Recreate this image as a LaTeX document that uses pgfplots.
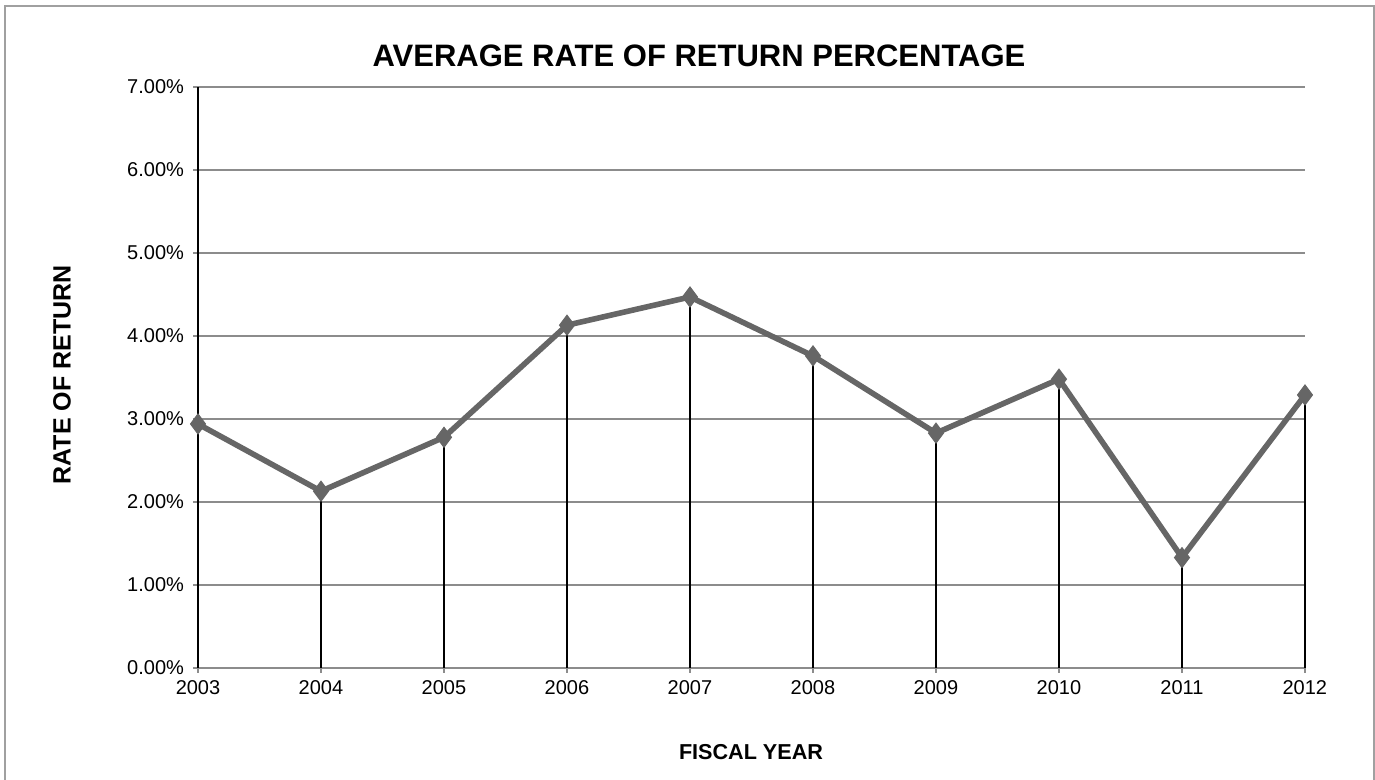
\documentclass[border=0pt]{standalone}
\usepackage{fontspec}
\setmainfont{Liberation Sans}
\usepackage{pgfplots}
\pgfplotsset{compat=1.18}
\definecolor{linegray}{HTML}{666666}
\definecolor{gridgray}{HTML}{8C8C8C}
\definecolor{framegray}{HTML}{A0A0A0}
\begin{document}
\begin{tikzpicture}[x=1pt,y=1pt]
\path[use as bounding box] (0,0) rectangle (687.5,390);
\draw[framegray, line width=0.8pt] (2.5,-2) -- (2.5,387) -- (687,387) -- (687,-2);
\begin{axis}[
  at={(99pt,56pt)}, anchor=origin,
  scale only axis, width=553.5pt, height=290.5pt,
  xmin=2003, xmax=2012, ymin=0, ymax=7,
  xtick={2003,...,2012}, ytick={0,1,...,7},
  axis x line*=bottom, axis y line*=left,
  axis line style={draw=none},
  ymajorgrids, grid style={gridgray, line width=0.8pt},
  major tick length=2.5pt,
  tick align=outside,
  tick style={gridgray, line width=0.8pt},
  xticklabel style={/pgf/number format/1000 sep={}, font=\fontsize{10}{12}\selectfont, text=black, yshift=0pt},
  yticklabel style={font=\fontsize{10}{12}\selectfont, text=black, xshift=-1pt},
  /pgf/number format/assume math mode=true,
  yticklabel={\pgfmathprintnumber[fixed,fixed zerofill,precision=2]{\tick}\%},
  clip=false,
]
\draw[gridgray, line width=0.8pt] (axis cs:2003,0) -- (axis cs:2012,0);
\draw[black, line width=0.6pt] (axis cs:2003,0) -- (axis cs:2003,7);
\addplot[ycomb, black, line width=0.6pt, mark=none] coordinates {
(2003,2.94) (2004,2.13) (2005,2.78) (2006,4.13) (2007,4.47)
(2008,3.76) (2009,2.83) (2010,3.48) (2011,1.33) (2012,3.29)};
\addplot[linegray, line width=2.8pt, mark=diamond*, mark size=5pt,
  mark options={linegray, line width=0.5pt}] coordinates {
(2003,2.94) (2004,2.13) (2005,2.78) (2006,4.13) (2007,4.47)
(2008,3.76) (2009,2.83) (2010,3.48) (2011,1.33) (2012,3.29)};
\end{axis}
\node[font=\bfseries\fontsize{15.5}{18}\selectfont] at (349.5,362) {AVERAGE RATE OF RETURN PERCENTAGE};
\node[font=\bfseries\fontsize{12.5}{14}\selectfont, rotate=90] at (31,202.5) {RATE OF RETURN};
\node[font=\bfseries\fontsize{10.8}{13}\selectfont] at (375.5,14) {FISCAL YEAR};
\end{tikzpicture}
\end{document}
